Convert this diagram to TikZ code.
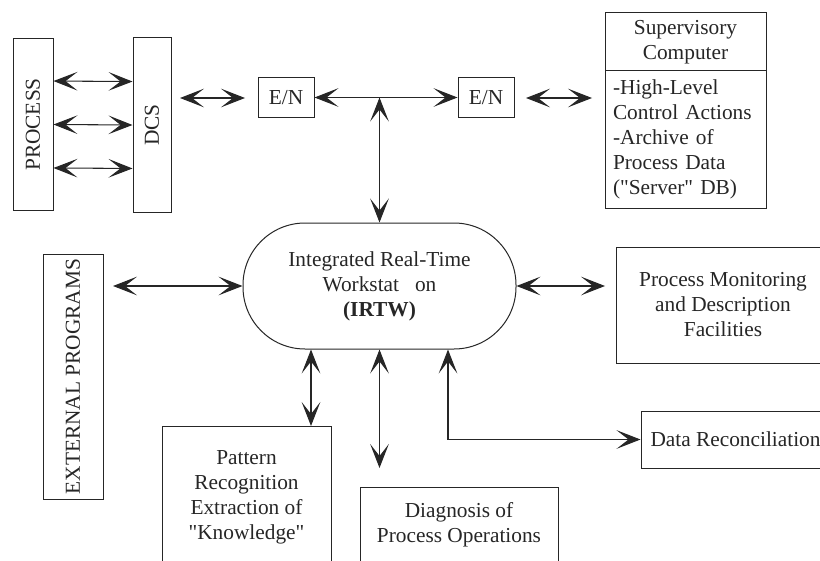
\documentclass[tikz,border=0pt]{standalone}
\usepackage{fontspec}
\setmainfont{Liberation Serif}
\usetikzlibrary{arrows.meta}
\begin{document}
\begin{tikzpicture}[x=0.75pt,y=-0.75pt,
  every node/.style={font=\fontsize{16}{18.75}\selectfont,text=black!85},
  box/.style={draw=black!85,line width=0.75pt,inner sep=0pt,align=center},
  con/.style={draw=black!85,line width=0.8pt,{Stealth[length=18pt,width=14pt,inset=9pt]}-{Stealth[length=18pt,width=14pt,inset=9pt]}}]
\useasboundingbox (0,0) rectangle (820,560);
\clip (0,0) rectangle (820,560);
% nodes
\node[box,minimum width=40*0.75pt,minimum height=171*0.75pt] (proc) at (33,124.5) {\rotatebox{90}{PROCESS}};
\node[box,minimum width=38*0.75pt,minimum height=174*0.75pt] (dcs) at (152,125) {\rotatebox{90}{DCS}};
\node[box,minimum width=56*0.75pt,minimum height=39*0.75pt] (en1) at (286,97.5) {E/N};
\node[box,minimum width=56*0.75pt,minimum height=39*0.75pt] (en2) at (486,97.5) {E/N};
\node[box,minimum width=161*0.75pt,minimum height=58*0.75pt] (suptop) at (685.5,42) {Supervisory\\Computer};
\node[box,minimum width=161*0.75pt,minimum height=137*0.75pt,text width=145*0.75pt,align=left] (supbot) at (685.5,139.5) {-High-Level\\Control Actions\\-Archive of\\Process Data\\(\textquotedbl Server\textquotedbl\ DB)};
\node[box,minimum width=273*0.75pt,minimum height=126*0.75pt,rounded corners=62*0.75pt] (irtw) at (379.5,286) {Integrated Real-Time\\Workstat\hspace{0.5em} on\\\textbf{(IRTW)}};
\node[box,minimum width=60*0.75pt,minimum height=245*0.75pt] (ext) at (73,376.5) {\rotatebox{90}{EXTERNAL PROGRAMS}};
\node[box,minimum width=214*0.75pt,minimum height=116*0.75pt] (mon) at (723,305) {Process Monitoring\\and Description\\Facilities};
\node[box,minimum width=189*0.75pt,minimum height=57*0.75pt] (dr) at (735.5,439.5) {Data Reconciliation};
\node[box,minimum width=169*0.75pt,minimum height=142*0.75pt] (pat) at (246.5,497) {Pattern\\Recognition\\Extraction of\\\textquotedbl Knowledge\textquotedbl};
\node[box,minimum width=198*0.75pt,minimum height=75*0.75pt] (diag) at (459,524.5) {Diagnosis of\\Process Operations};
% coordinates
\coordinate (a1) at (180,98);
\coordinate (a2) at (245,98);
\coordinate (a3) at (526,98);
\coordinate (a4) at (592,98);
\coordinate (j) at (379.5,97.5);
\coordinate (b1) at (113,286);
\coordinate (b2) at (605,286);
\coordinate (p1) at (311,426);
\coordinate (c1) at (379.5,468);
\coordinate (e1) at (448,439.5);
% connectors
\draw[con] ([yshift=32.6pt]proc.east) -- ([yshift=32.6pt]dcs.west);
\draw[con] (proc.east) -- (dcs.west);
\draw[con] ([yshift=-32.6pt]proc.east) -- ([yshift=-32.6pt]dcs.west);
\draw[con] (a1) -- (a2);
\draw[con] (en1.east) -- (en2.west);
\draw[con] (a3) -- (a4);
\draw[con] (j) -- (irtw.north);
\draw[con] (b1) -- (irtw.west);
\draw[con] (irtw.east) -- (b2);
\draw[con] (p1 |- irtw.south) -- (p1);
\draw[con] (irtw.south) -- (c1);
\draw[con] (e1 |- irtw.south) -- (e1) -- (dr.west);
\end{tikzpicture}
\end{document}
